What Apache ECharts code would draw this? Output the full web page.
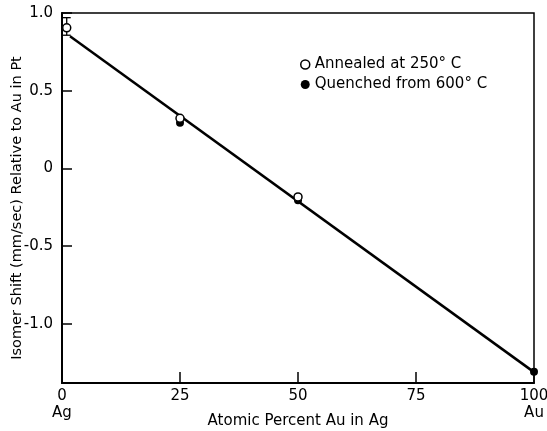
<!DOCTYPE html>
<html>
<head>
<meta charset="utf-8">
<script src="https://cdn.jsdelivr.net/npm/echarts@6/dist/echarts.min.js"></script>
<style>html,body{margin:0;padding:0;background:#fff;}#c{width:547px;height:431px;}</style>
</head>
<body>
<div id="c"></div>
<script>
// Data
const annealedX = [1, 25, 50];
const annealedY = [0.905, 0.323, -0.183];
const annealedErrHigh = [0.97, null, null];
const annealedErrLow = [0.857, null, null];
const quenchedX = [25, 50, 100];
const quenchedY = [0.294, -0.205, -1.307];
const fitX = [1.7, 100];
const fitY = [0.85, -1.31];
const xTicks = [0, 25, 50, 75, 100];
const yTicks = [-1.0, -0.5, 0, 0.5, 1.0];
const seriesNames = ['Annealed at 250° C', 'Quenched from 600° C'];
const xTitle = 'Atomic Percent Au in Ag';
const yTitle = 'Isomer Shift (mm/sec) Relative to Au in Pt';

const FONT = 'DejaVu Sans';
const chart = echarts.init(document.getElementById('c'), null, {renderer: 'canvas'});

const errData = [];
annealedX.forEach((x, i) => {
  if (annealedErrHigh[i] != null) errData.push([x, annealedErrLow[i], annealedErrHigh[i]]);
});

chart.setOption({
  animation: false,
  backgroundColor: '#fff',
  grid: {left: 62, right: 13, top: 13, bottom: 48, outerBoundsMode: 'none', containLabel: false,
         show: true, borderColor: '#000', borderWidth: 1.5},
  legend: {
    orient: 'vertical', left: 295, top: 52, itemWidth: 9, itemHeight: 9, itemGap: 5,
    textStyle: {fontFamily: FONT, fontSize: 15, color: '#000'},
    data: [
      {name: seriesNames[0], icon: 'circle', itemStyle: {color: '#fff', borderColor: '#000', borderWidth: 1.5, opacity: 1}},
      {name: seriesNames[1], icon: 'circle', itemStyle: {color: '#000', opacity: 1}}
    ]
  },
  xAxis: {
    type: 'value', min: 0, max: 100, interval: 25,
    axisLine: {onZero: false, lineStyle: {color: '#000', width: 2}},
    axisTick: {inside: true, length: 11, lineStyle: {color: '#000', width: 1.5}, customValues: xTicks},
    splitLine: {show: false},
    axisLabel: {
      customValues: xTicks,
      color: '#000', fontFamily: FONT, fontSize: 15, margin: 5, lineHeight: 17,
      formatter: v => v === 0 ? '0\nAg' : (v === 100 ? '100\nAu' : String(v))
    },
    name: xTitle, nameLocation: 'middle', nameGap: 31, nameMoveOverlap: false,
    nameTextStyle: {color: '#000', fontFamily: FONT, fontSize: 15}
  },
  yAxis: {
    type: 'value', min: -1.38, max: 1.0,
    axisLine: {onZero: false, lineStyle: {color: '#000', width: 2}},
    axisTick: {inside: true, length: 10, lineStyle: {color: '#000', width: 1.5}, customValues: yTicks},
    splitLine: {show: false},
    axisLabel: {
      customValues: yTicks,
      color: '#000', fontFamily: FONT, fontSize: 15, margin: 9,
      formatter: v => v === 0 ? '0' : v.toFixed(1)
    },
    name: yTitle, nameLocation: 'middle', nameGap: 37, nameMoveOverlap: false,
    nameTextStyle: {color: '#000', fontFamily: FONT, fontSize: 14.5, padding: [0, 20, 0, 0]}
  },
  series: [
    {
      type: 'line', name: 'fit', data: fitX.map((x, i) => [x, fitY[i]]),
      showSymbol: false, lineStyle: {color: '#000', width: 2.5}, silent: true, z: 1
    },
    {
      type: 'custom', name: 'err', data: errData, z: 2, silent: true,
      renderItem: (params, api) => {
        const top = api.coord([api.value(0), api.value(2)]);
        const bot = api.coord([api.value(0), api.value(1)]);
        const ctr = api.coord([api.value(0), annealedY[params.dataIndex]]);
        const w = 4;
        const st = {stroke: '#000', lineWidth: 1.3};
        return {type: 'group', children: [
          {type: 'line', shape: {x1: top[0], y1: top[1], x2: ctr[0], y2: ctr[1] - 4}, style: st},
          {type: 'line', shape: {x1: ctr[0], y1: ctr[1] + 4, x2: bot[0], y2: bot[1]}, style: st},
          {type: 'line', shape: {x1: top[0] - w, y1: top[1], x2: top[0] + w, y2: top[1]}, style: st},
          {type: 'line', shape: {x1: bot[0] - w, y1: bot[1], x2: bot[0] + w, y2: bot[1]}, style: st}
        ]};
      }
    },
    {
      type: 'scatter', name: seriesNames[1], data: quenchedX.map((x, i) => [x, quenchedY[i]]),
      symbol: 'circle', symbolSize: 8, itemStyle: {color: '#000', opacity: 1}, z: 3
    },
    {
      type: 'scatter', name: seriesNames[0], data: annealedX.map((x, i) => [x, annealedY[i]]),
      symbol: 'circle', symbolSize: 8, itemStyle: {color: '#fff', borderColor: '#000', borderWidth: 1.5, opacity: 1}, z: 4
    }
  ]
});
</script>
</body>
</html>
